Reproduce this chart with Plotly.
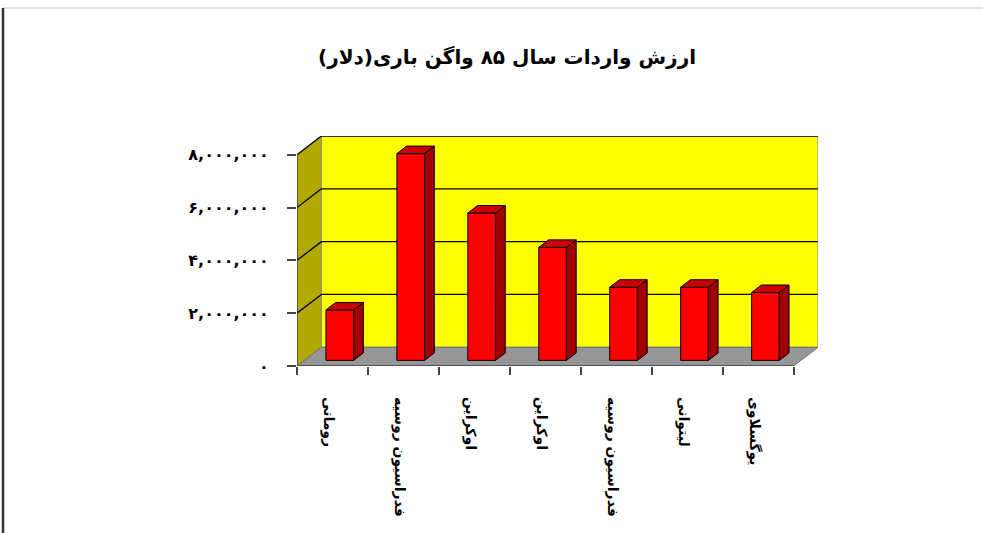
import plotly.graph_objects as go

# --- data -------------------------------------------------------------
categories = ["رومانی", "فدراسیون روسیه", "اوکراین", "اوکراین",
              "فدراسیون روسیه", "لیتوانی", "یوگسلاوی"]
values = [1910000, 7830000, 5580000, 4280000, 2770000, 2770000, 2570000]
y_ticks = [0, 2000000, 4000000, 6000000, 8000000]
y_tick_text = ["۰", "۲,۰۰۰,۰۰۰", "۴,۰۰۰,۰۰۰", "۶,۰۰۰,۰۰۰", "۸,۰۰۰,۰۰۰"]
title_text = "ارزش واردات سال ۸۵ واگن باری(دلار)\u200f"

# --- pseudo-3D geometry (depth expressed in axis units) ---------------
n = len(categories)
y_max = 8000000
DX = 0.344          # depth shift along x, in category units
DY = 710000         # depth shift along y, in value units
F0, F1 = 0.30, 0.70 # front / back depth fraction of each column
BAR_W = 0.39

W, H = 983, 533
L, R, T, B = 297, 165, 136, 167
pw, ph = W - L - R, H - T - B


def px_x(p):
    return (p - L) / pw


def px_y(p):
    return (H - B - p) / ph


FONT = "DejaVu Sans"
fig = go.Figure()

shapes = []
# back wall
shapes.append(dict(type="path", layer="below", xref="x", yref="y",
                   path=f"M{DX},{DY} L{n + DX},{DY} L{n + DX},{y_max + DY} L{DX},{y_max + DY} Z",
                   fillcolor="#FFFF00", line=dict(color="#8c8c8c", width=1)))
# side wall
shapes.append(dict(type="path", layer="below", xref="x", yref="y",
                   path=f"M0,0 L{DX},{DY} L{DX},{y_max + DY} L0,{y_max} Z",
                   fillcolor="#B2AA00", line=dict(color="#8c8c8c", width=1)))
# floor
shapes.append(dict(type="path", layer="below", xref="x", yref="y",
                   path=f"M0,0 L{n},0 L{n + DX},{DY} L{DX},{DY} Z",
                   fillcolor="#969696", line=dict(color="#6e6e6e", width=1)))
# gridlines on the walls
for v in y_ticks[1:]:
    shapes.append(dict(type="line", layer="below", xref="x", yref="y",
                       x0=DX, x1=n + DX, y0=v + DY, y1=v + DY,
                       line=dict(color="#000000", width=1.3)))
    shapes.append(dict(type="line", layer="below", xref="x", yref="y",
                       x0=0, x1=DX, y0=v, y1=v + DY,
                       line=dict(color="#000000", width=1.3)))
# front axis edges
shapes.append(dict(type="line", layer="above", xref="x", yref="y",
                   x0=0, x1=0, y0=0, y1=y_max, line=dict(color="#444444", width=1.5)))
shapes.append(dict(type="line", layer="above", xref="x", yref="y",
                   x0=0, x1=n, y0=0, y1=0, line=dict(color="#444444", width=1.5)))
# page frame
shapes.append(dict(type="line", xref="paper", yref="paper",
                   x0=px_x(3), x1=px_x(983), y0=px_y(8), y1=px_y(8),
                   line=dict(color="#d4d4d4", width=1.5)))
shapes.append(dict(type="line", xref="paper", yref="paper",
                   x0=px_x(3), x1=px_x(3), y0=px_y(8), y1=px_y(533),
                   line=dict(color="#333333", width=2.5)))

# column front faces
base = F0 * DY
xc = [i + 0.5 + F0 * DX for i in range(n)]
fig.add_trace(go.Bar(x=xc, y=values, base=[base] * n, width=BAR_W,
                     marker=dict(color="#FF0000", line=dict(color="#000000", width=1)),
                     hoverinfo="skip", showlegend=False))

# column side and top faces
ddx, ddy = (F1 - F0) * DX, (F1 - F0) * DY
for cx, v in zip(xc, values):
    xl, xr = cx - BAR_W / 2, cx + BAR_W / 2
    top = base + v
    fig.add_trace(go.Scatter(
        x=[xr, xr + ddx, xr + ddx, xr, xr],
        y=[base, base + ddy, top + ddy, top, base],
        mode="lines", fill="toself", fillcolor="#A00000",
        line=dict(color="#000000", width=1), hoverinfo="skip", showlegend=False))
    fig.add_trace(go.Scatter(
        x=[xl, xr, xr + ddx, xl + ddx, xl],
        y=[top, top, top + ddy, top + ddy, top],
        mode="lines", fill="toself", fillcolor="#CC0000",
        line=dict(color="#000000", width=1), hoverinfo="skip", showlegend=False))

fig.update_layout(
    width=W, height=H,
    margin=dict(l=L, r=R, t=T, b=B, pad=0),
    paper_bgcolor="#FFFFFF", plot_bgcolor="rgba(0,0,0,0)",
    shapes=shapes,
    title=dict(text=title_text, xref="container", yref="container",
               x=507 / W, y=1 - 57 / H, xanchor="center", yanchor="middle",
               font=dict(family=FONT, size=20, color="#000000", weight="bold")),
    xaxis=dict(range=[0, n + DX], showgrid=False, zeroline=False, showline=False,
               tickmode="array", tickvals=[i + 0.45 for i in range(n)],
               ticktext=categories, tickangle=90, ticks="",
               ticklabelstandoff=30,
               tickfont=dict(family=FONT, size=14, color="#000000", weight="bold"),
               minor=dict(tickmode="array", tickvals=list(range(n + 1)),
                          ticks="outside", ticklen=8, tickcolor="#444444", tickwidth=1.5)),
    yaxis=dict(range=[0, y_max + DY], showgrid=False, zeroline=False, showline=False,
               tickmode="array", tickvals=y_ticks, ticktext=y_tick_text,
               ticks="outside", ticklen=9, tickcolor="#444444", tickwidth=1.5,
               ticklabelstandoff=15,
               tickfont=dict(family=FONT, size=16, color="#000000", weight="bold")),
)

fig.write_html("out.html")
